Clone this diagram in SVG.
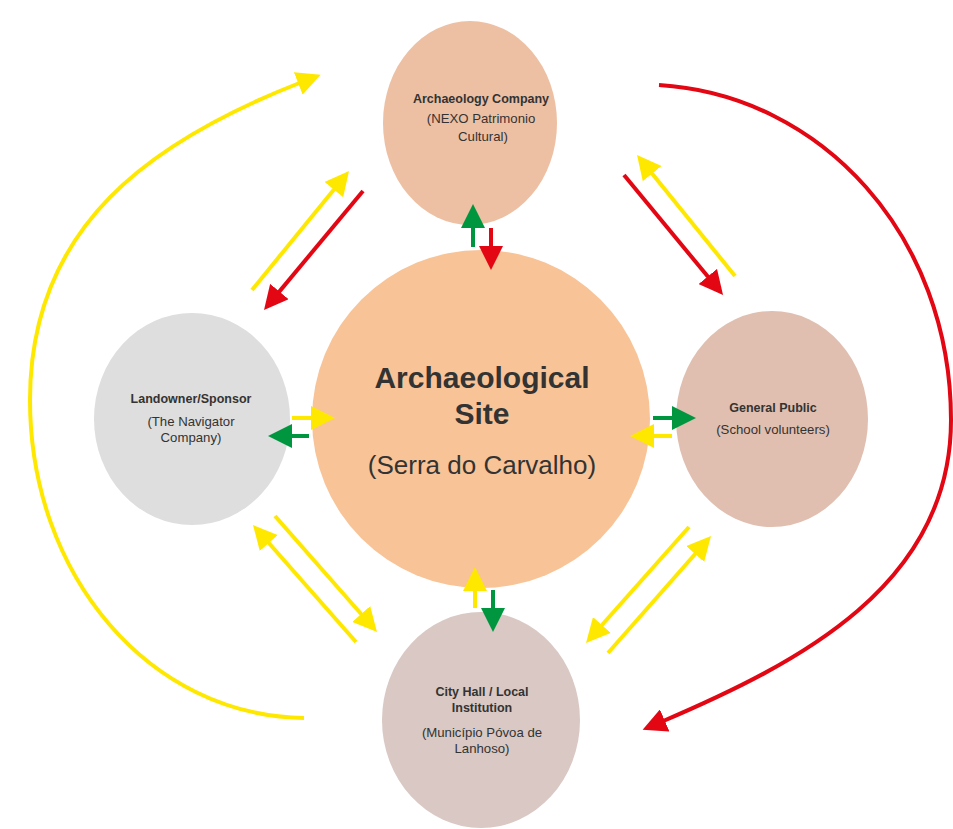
<svg xmlns="http://www.w3.org/2000/svg" width="953" height="829" viewBox="0 0 953 829">
<style>
.t{font-family:"Liberation Sans",Arial,sans-serif;fill:#333;text-anchor:middle}
.b{font-weight:bold}
.y{stroke:#FFE800;stroke-width:4;fill:none}
.r{stroke:#E30613;stroke-width:4;fill:none}
.g{stroke:#009640;stroke-width:4;fill:none}
</style>
<defs>
<marker id="my" viewBox="0 0 24 24" markerWidth="24" markerHeight="24" refX="4" refY="12" orient="auto" markerUnits="userSpaceOnUse"><path d="M0,0 L24,12 L0,24 z" fill="#FFE800"/></marker>
<marker id="mr" viewBox="0 0 24 24" markerWidth="24" markerHeight="24" refX="4" refY="12" orient="auto" markerUnits="userSpaceOnUse"><path d="M0,0 L24,12 L0,24 z" fill="#E30613"/></marker>
<marker id="mg" viewBox="0 0 24 24" markerWidth="24" markerHeight="24" refX="4" refY="12" orient="auto" markerUnits="userSpaceOnUse"><path d="M0,0 L24,12 L0,24 z" fill="#009640"/></marker>
</defs>
<rect width="953" height="829" fill="#fff"/>
<g id="archaeology-company">
<ellipse cx="470" cy="123" rx="87" ry="102" fill="#EDC0A3"/>
<text class="t b" x="481" y="103" font-size="12.5">Archaeology Company</text>
<text class="t" x="481" y="123" font-size="13.2">(NEXO Patrimonio</text>
<text class="t" x="483" y="141" font-size="13.2">Cultural)</text>
</g>
<g id="landowner">
<ellipse cx="192" cy="419" rx="98" ry="106" fill="#DEDEDE"/>
<text class="t b" x="191" y="403" font-size="12.5">Landowner/Sponsor</text>
<text class="t" x="191" y="426" font-size="13.2">(The Navigator</text>
<text class="t" x="191" y="442" font-size="13.2">Company)</text>
</g>
<g id="archaeological-site">
<circle cx="481" cy="419" r="169" fill="#F8C397"/>
<text class="t b" x="482" y="388" font-size="30">Archaeological</text>
<text class="t b" x="482" y="424" font-size="30">Site</text>
<text class="t" x="482" y="474" font-size="26">(Serra do Carvalho)</text>
</g>
<g id="general-public">
<ellipse cx="772" cy="419" rx="96" ry="108" fill="#E0BFB0"/>
<text class="t b" x="773" y="412" font-size="12.5">General Public</text>
<text class="t" x="773" y="434" font-size="13.2">(School volunteers)</text>
</g>
<g id="city-hall">
<ellipse cx="481" cy="720" rx="99" ry="108" fill="#D9C8C3"/>
<text class="t b" x="482" y="696" font-size="12.5">City Hall / Local</text>
<text class="t b" x="482" y="712" font-size="12.5">Institution</text>
<text class="t" x="482" y="737" font-size="13.2">(Município Póvoa de</text>
<text class="t" x="482" y="753" font-size="13.2">Lanhoso)</text>
</g>
<g id="connectors">
<path class="g" d="M473,247 L473,224" marker-end="url(#mg)"/>
<path class="r" d="M491,228 L491,250" marker-end="url(#mr)"/>
<path class="y" d="M252,290 L336.4,186.5" marker-end="url(#my)"/>
<path class="r" d="M363,191 L276.8,294.6" marker-end="url(#mr)"/>
<path class="r" d="M624,175 L710.3,279.6" marker-end="url(#mr)"/>
<path class="y" d="M735,276 L649.6,170.5" marker-end="url(#my)"/>
<path class="y" d="M275,516 L363.8,617" marker-end="url(#my)"/>
<path class="y" d="M356,642 L266.2,540" marker-end="url(#my)"/>
<path class="y" d="M689,527 L599.3,628" marker-end="url(#my)"/>
<path class="y" d="M608,653 L697.8,551" marker-end="url(#my)"/>
<path class="y" d="M292,418 L315,418" marker-end="url(#my)"/>
<path class="g" d="M309,436 L288,436" marker-end="url(#mg)"/>
<path class="g" d="M653,418 L676,418" marker-end="url(#mg)"/>
<path class="y" d="M672,436 L650,436" marker-end="url(#my)"/>
<path class="y" d="M475,608 L475,587" marker-end="url(#my)"/>
<path class="g" d="M493,590 L493,612" marker-end="url(#mg)"/>
<path class="y" d="M304,718 C150,716 30,576 30,400 C30,225 153,140 302,82" marker-end="url(#my)"/>
<path class="r" d="M659,85 C822,95 951,236 951,420 C951,585 799,663 661,722" marker-end="url(#mr)"/>
</g>
</svg>
